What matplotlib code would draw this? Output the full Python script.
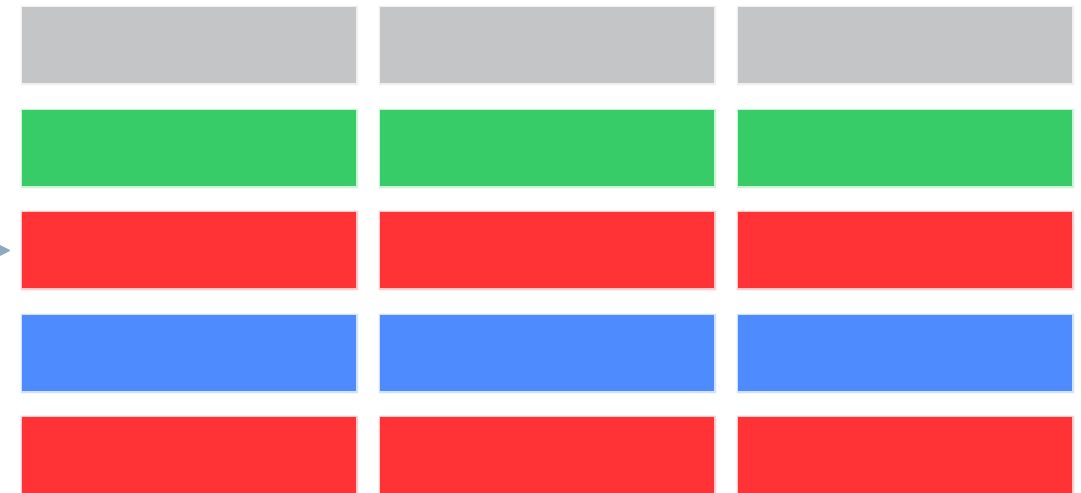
import matplotlib
matplotlib.use("Agg")
import matplotlib.pyplot as plt
from matplotlib.patches import Rectangle

# status grid: one row per item, one column per check
columns = ["A", "B", "C"]
rows = ["r1", "r2", "r3", "r4", "r5"]
status = [
    ["idle", "idle", "idle"],
    ["ok", "ok", "ok"],
    ["fail", "fail", "fail"],
    ["info", "info", "info"],
    ["fail", "fail", "fail"],
]
status_colors = {
    "idle": "#c4c5c7",
    "ok": "#37cc67",
    "fail": "#ff3236",
    "info": "#4d8bff",
}
selected_row = 2

fig = plt.figure(figsize=(10.81, 4.93), dpi=100)
ax = fig.add_axes([0, 0, 1, 1])

cell_w = 334 / 358
cell_h = 76 / 102.5

for j, row in enumerate(status):
    for i, s in enumerate(row):
        c = status_colors[s]
        # faint halo around each cell, like the soft edge in the original
        ax.add_patch(Rectangle((i, j), cell_w, cell_h, facecolor="none",
                               edgecolor=c, linewidth=2.5, alpha=0.25))
        ax.add_patch(Rectangle((i, j), cell_w, cell_h, facecolor=c,
                               edgecolor="none"))

# pointer to the selected row
ax.plot([-22 / 358 + 3 / 358], [selected_row + cell_h / 2], marker=">",
        markersize=9, color="#8ca9c0", linestyle="none", clip_on=False)

ax.set_xlim(-22 / 358, (1081 - 22) / 358)
ax.set_ylim((493 - 7) / 102.5, -7 / 102.5)
ax.axis("off")

fig.savefig("out.png", dpi=100)
